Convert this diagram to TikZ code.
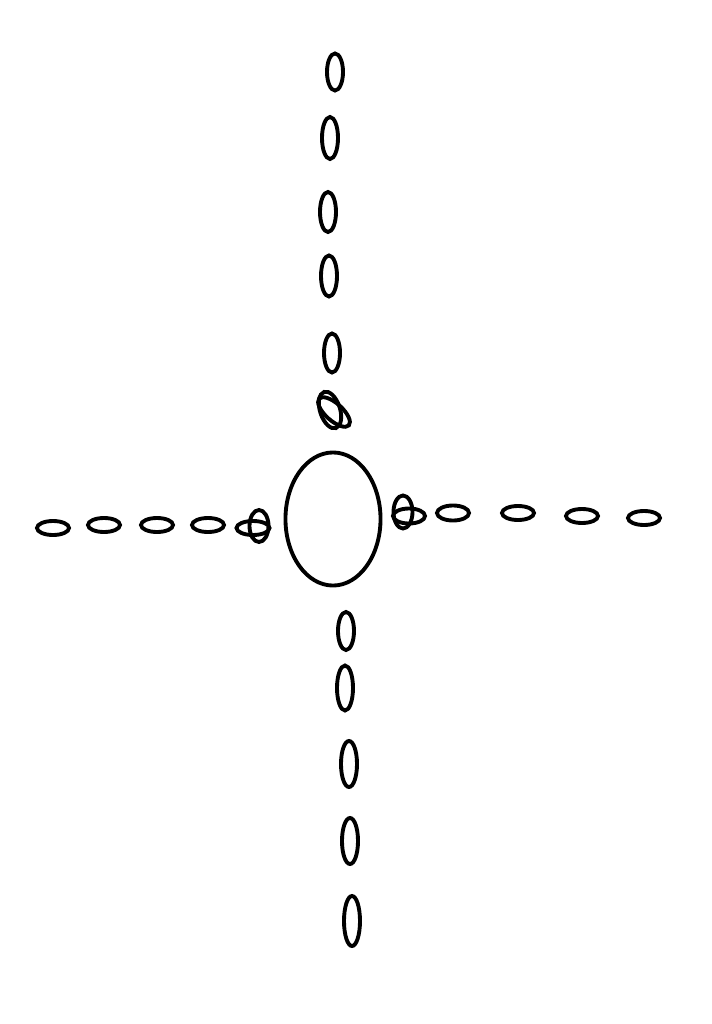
\documentclass[tikz,border=0pt]{standalone}
\usetikzlibrary{shapes.geometric}
\begin{document}
\begin{tikzpicture}
  [x=0.01cm,y=-0.01cm,
   link/.style={ellipse,draw=black,line width=1.1pt,inner sep=0,outer sep=0,
                minimum width=0.16cm,minimum height=0.37cm},
   flat/.style={ellipse,draw=black,line width=1.1pt,inner sep=0,outer sep=0,
                minimum width=0.32cm,minimum height=0.14cm},
   hub/.style={ellipse,draw=black,line width=1.1pt,inner sep=0,outer sep=0,
               minimum width=0.95cm,minimum height=1.33cm}]
  \useasboundingbox (0,0) rectangle (712,1024);
  \node[hub] (core) at (333,519) {};
  % upper chain
  \node[link] (up1) at (335,72) {};
  \node[link,minimum height=0.42cm] (up2) at (330,138) {};
  \node[link,minimum height=0.40cm] (up3) at (328,212) {};
  \node[link,minimum height=0.41cm] (up4) at (329,276) {};
  \node[link,minimum height=0.39cm] (up5) at (332,353) {};
  \node[link,minimum width=0.20cm,minimum height=0.38cm,rotate=18] (upx) at (330,410) {};
  \node[flat,minimum width=0.40cm,minimum height=0.17cm,rotate=-42] (upy) at (334,412) {};
  % lower chain
  \node[link,minimum height=0.38cm] (dn1) at (346,631) {};
  \node[link,minimum height=0.45cm] (dn2) at (345,688) {};
  \node[link,minimum height=0.46cm] (dn3) at (349,764) {};
  \node[link,minimum height=0.46cm] (dn4) at (350,841) {};
  \node[link,minimum height=0.50cm] (dn5) at (352,921) {};
  % left chain
  \node[flat] (lf1) at (53,528) {};
  \node[flat] (lf2) at (104,525) {};
  \node[flat] (lf3) at (157,525) {};
  \node[flat] (lf4) at (208,525) {};
  \node[link,minimum width=0.19cm,minimum height=0.32cm] (lfx) at (259,526) {};
  \node[flat,minimum width=0.33cm] (lfy) at (253,528) {};
  % right chain
  \node[link,minimum width=0.19cm,minimum height=0.33cm] (rtx) at (403,512) {};
  \node[flat,minimum width=0.32cm,minimum height=0.15cm] (rty) at (409,516) {};
  \node[flat,minimum height=0.15cm] (rt1) at (453,513) {};
  \node[flat,minimum height=0.14cm] (rt2) at (518,513) {};
  \node[flat,minimum height=0.14cm] (rt3) at (582,516) {};
  \node[flat,minimum height=0.14cm] (rt4) at (644,518) {};
\end{tikzpicture}
\end{document}
